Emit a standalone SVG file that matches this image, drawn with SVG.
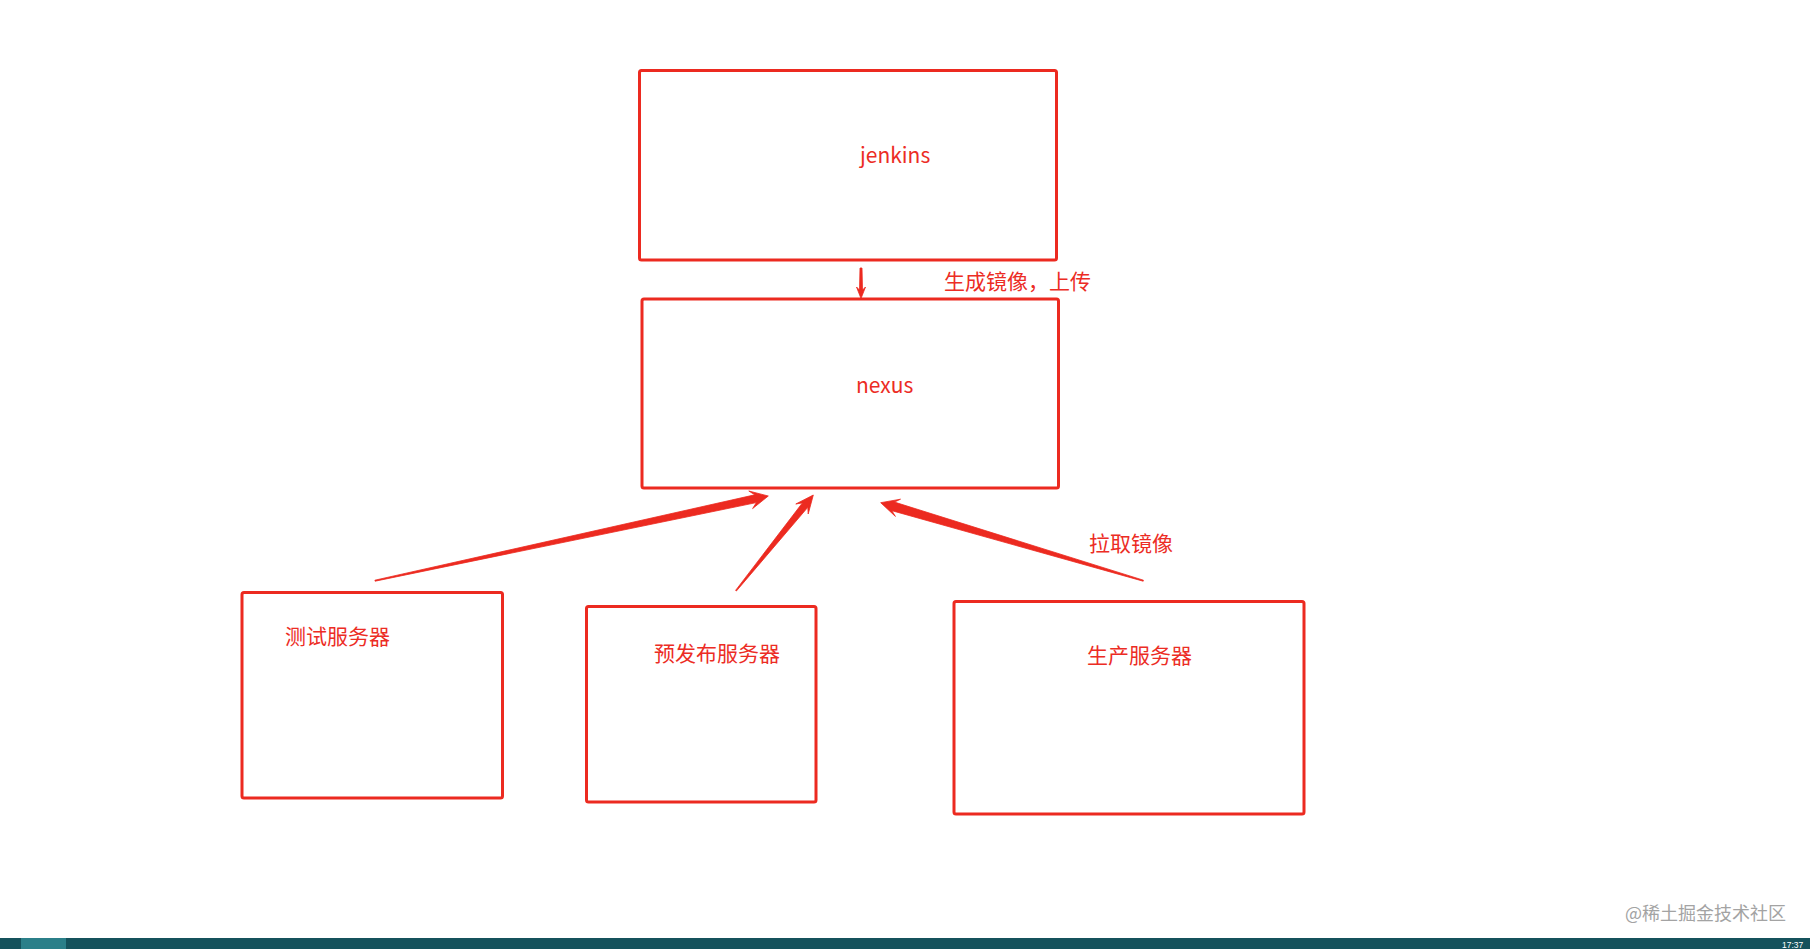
<svg xmlns="http://www.w3.org/2000/svg" width="1810" height="949" viewBox="0 0 1810 949">
<style>
.box{fill:none;stroke:#ec2a20;stroke-width:3}
.lbl{font-family:"Noto Sans CJK SC","Noto Sans",sans-serif;font-size:21px;fill:#ec2c24}
.arr{fill:#ec2a20;stroke:#ec2a20;stroke-width:0.8;stroke-linejoin:round}
.wm{font-family:"Noto Sans CJK SC","Noto Sans",sans-serif;font-size:18px;fill:#a3a3a3}
</style>
<rect x="0" y="0" width="1810" height="949" fill="#ffffff"/>
<g id="jenkins">
<rect class="box" x="639.5" y="70.5" width="417" height="189.5" rx="2"/>
<text class="lbl" x="860" y="163">jenkins</text>
</g>
<g id="nexus">
<rect class="box" x="642" y="299" width="416.5" height="189" rx="2"/>
<text class="lbl" x="856" y="393">nexus</text>
</g>
<g id="test-server">
<rect class="box" x="242" y="592.5" width="260.5" height="205.5" rx="2"/>
<text class="lbl" x="285" y="644">测试服务器</text>
</g>
<g id="pre-server">
<rect class="box" x="586.5" y="606.5" width="229.5" height="195.5" rx="2"/>
<text class="lbl" x="654" y="661">预发布服务器</text>
</g>
<g id="prod-server">
<rect class="box" x="954" y="601.5" width="350" height="212.5" rx="2"/>
<text class="lbl" x="1087" y="663">生产服务器</text>
</g>
<g id="connectors">
<polygon class="arr" points="860,268 862,268 862.5,290 865.5,287 861,298.5 856.5,287 859.5,290"/>
<text class="lbl" x="944" y="289">生成镜像，上传</text>
<polygon class="arr" points="374.9,580.2 754.8,494.8 748.8,491 768.3,496 752.6,508.6 756.4,502.6 375.1,581.2"/>
<polygon class="arr" points="735.6,590.4 802.4,502.9 795.8,504 813.3,495 808.2,514 807.8,507.3 736.4,591"/>
<polygon class="arr" points="1143.4,580.2 894.5,502.1 900.5,499.2 880.7,502.7 895.4,516.4 891.9,510.7 1143.2,581.2"/>
<text class="lbl" x="1089" y="551">拉取镜像</text>
</g>
<text class="wm" x="1625" y="920">@稀土掘金技术社区</text>
<rect x="0" y="938" width="1810" height="11" fill="#15525c"/>
<rect x="21" y="938" width="45" height="11" fill="#2b7f89"/>
<text x="1782" y="947.5" font-family="Liberation Sans,sans-serif" font-size="8.5" fill="#ffffff">17:37</text>
</svg>
